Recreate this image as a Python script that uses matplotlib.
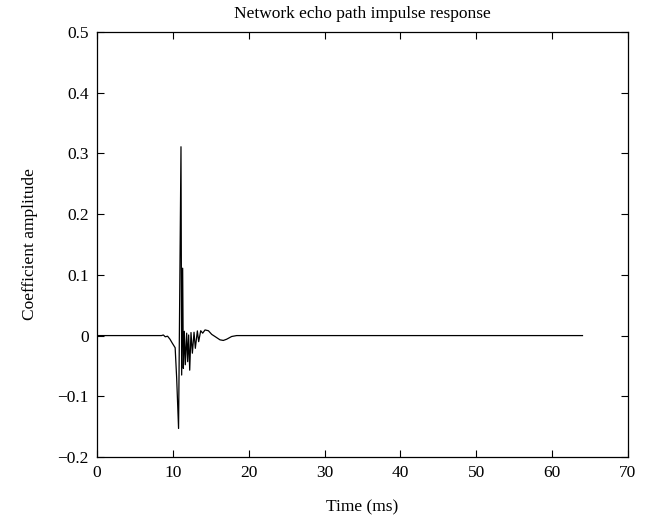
import numpy as np
import matplotlib.pyplot as plt

# impulse response (time in ms, amplitude)
time_ms = [0, 8.5, 8.74, 9.0, 9.3, 9.62, 9.9, 10.3, 10.5, 10.75, 11.07, 11.16,
           11.29, 11.38, 11.51, 11.64, 11.82, 11.95, 12.08, 12.22, 12.39, 12.57,
           12.79, 12.96, 13.23, 13.40, 13.67, 13.93, 14.24, 14.68, 15.12, 15.56,
           16.21, 16.65, 17.09, 17.75, 18.41, 64]
amplitude = [0, 0, 0.001, -0.002, -0.001, -0.006, -0.012, -0.02, -0.07, -0.153, 0.311, -0.065,
             0.111, -0.054, 0.007, -0.048, 0.004, -0.043, 0.001, -0.057, 0.005, -0.029,
             0.0055, -0.021, 0.0077, -0.01, 0.008, 0.004, 0.0093, 0.008, 0.002, -0.0016,
             -0.007, -0.008, -0.006, -0.0015, 0, 0]

plt.rcParams['font.family'] = ['Liberation Serif', 'DejaVu Serif']
plt.rcParams['axes.unicode_minus'] = True

fig = plt.figure(figsize=(6.6, 5.22), dpi=100)
ax = fig.add_axes([0.147, 0.1245, 0.8045, 0.8142])

ax.plot(time_ms, amplitude, color='black', linewidth=0.9)

ax.set_xlim(0, 70)
ax.set_ylim(-0.2, 0.5)
ax.set_xticks(np.arange(0, 71, 10))
ax.set_yticks([-0.2, -0.1, 0, 0.1, 0.2, 0.3, 0.4, 0.5])
ax.set_yticklabels(['\u22120.2', '\u22120.1', '0', '0.1', '0.2', '0.3', '0.4', '0.5'])
ax.tick_params(direction='in', top=True, right=True, labelsize=12.5, length=5, pad=6)
for s in ax.spines.values():
    s.set_linewidth(0.9)

ax.set_xlabel('Time (ms)', fontsize=12.5, labelpad=13)
ax.set_ylabel('Coefficient amplitude', fontsize=12.5, labelpad=14)
ax.set_title('Network echo path impulse response', fontsize=12.5, pad=10)

fig.savefig('out.png', dpi=100)
